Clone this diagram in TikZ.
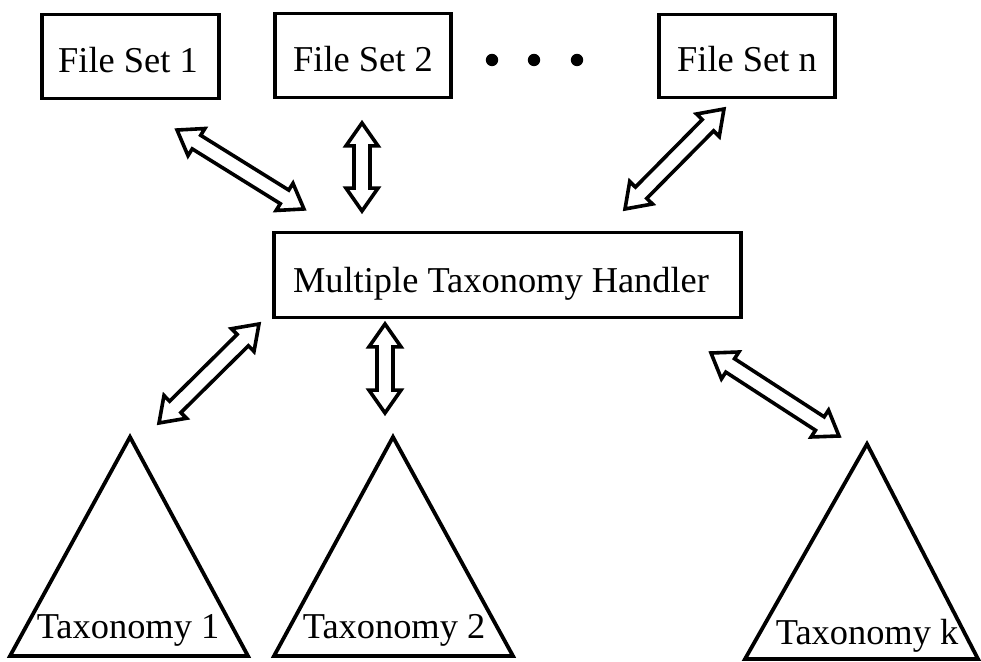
\documentclass[tikz,border=0pt]{standalone}
\usepackage{fontspec}
\setmainfont{Liberation Serif}
\usetikzlibrary{shapes.arrows,calc}
\tikzset{
  box/.style={draw, line width=1.9pt, rectangle, inner sep=0pt},
  lbl/.style={anchor=base, font=\fontsize{18.2pt}{21pt}\selectfont, inner sep=0pt},
  darrow/.style={double arrow, draw, line width=1.8pt, inner sep=3.1pt,
    double arrow head extend=4pt, double arrow tip angle=70, minimum width=0pt, anchor=center},
  tri/.style={draw, line width=1.9pt, line join=miter},
  dot/.style={circle, fill, inner sep=0pt, minimum size=6.2pt},
}
\newcommand\hollowarrow[2]{\path let \p1=($(#2)-(#1)$), \n1={veclen(\x1,\y1)}, \n2={atan2(\y1,\x1)} in
  node[darrow, minimum height=\n1, rotate=\n2] at ($(#1)!0.5!(#2)$) {};}
\begin{document}
\begin{tikzpicture}[x=0.5pt, y=-0.5pt]
\useasboundingbox (0,0) rectangle (981,662);
% boxes
\node[box, minimum width=88.5pt, minimum height=42pt] (fs1) at (130.5,56.5) {};
\node[box, minimum width=88pt, minimum height=42pt] (fs2) at (363,55.5) {};
\node[box, minimum width=88pt, minimum height=41.5pt] (fsn) at (747,56) {};
\node[box, minimum width=233.5pt, minimum height=42.5pt] (mth) at (507.5,275) {};
\node[lbl] (fs1t) at (128,73) {File Set 1};
\node[lbl] (fs2t) at (363,72) {File Set 2};
\node[lbl] (fsnt) at (747,72) {File Set n};
\node[lbl] (mtht) at (501,293) {Multiple Taxonomy Handler};
% dots
\node[dot] (d1) at (492,60) {};
\node[dot] (d2) at (534,60) {};
\node[dot] (d3) at (577,60) {};
% triangles
\coordinate (t1a) at (130,437);
\coordinate (t2a) at (393,437);
\coordinate (tka) at (867,444);
\draw[tri] (t1a) -- (10,656) -- (248,656) -- cycle;
\draw[tri] (t2a) -- (274,656) -- (513,656) -- cycle;
\draw[tri] (tka) -- (745,659) -- (978,659) -- cycle;
\node[lbl] (t1t) at (128,639) {Taxonomy 1};
\node[lbl] (t2t) at (394,639) {Taxonomy 2};
\node[lbl] (tkt) at (867,645) {Taxonomy k};
% arrow ends
\coordinate (a1s) at (177,130); \coordinate (a1e) at (304,209);
\coordinate (a2s) at (362,123); \coordinate (a2e) at (362,211);
\coordinate (a3s) at (724,109); \coordinate (a3e) at (625,209);
\coordinate (a4s) at (259,324); \coordinate (a4e) at (159,423);
\coordinate (a5s) at (385,324); \coordinate (a5e) at (385,413);
\coordinate (a6s) at (711,353); \coordinate (a6e) at (839,436);
\hollowarrow{a1s}{a1e}
\hollowarrow{a2s}{a2e}
\hollowarrow{a3s}{a3e}
\hollowarrow{a4s}{a4e}
\hollowarrow{a5s}{a5e}
\hollowarrow{a6s}{a6e}
\end{tikzpicture}
\end{document}
